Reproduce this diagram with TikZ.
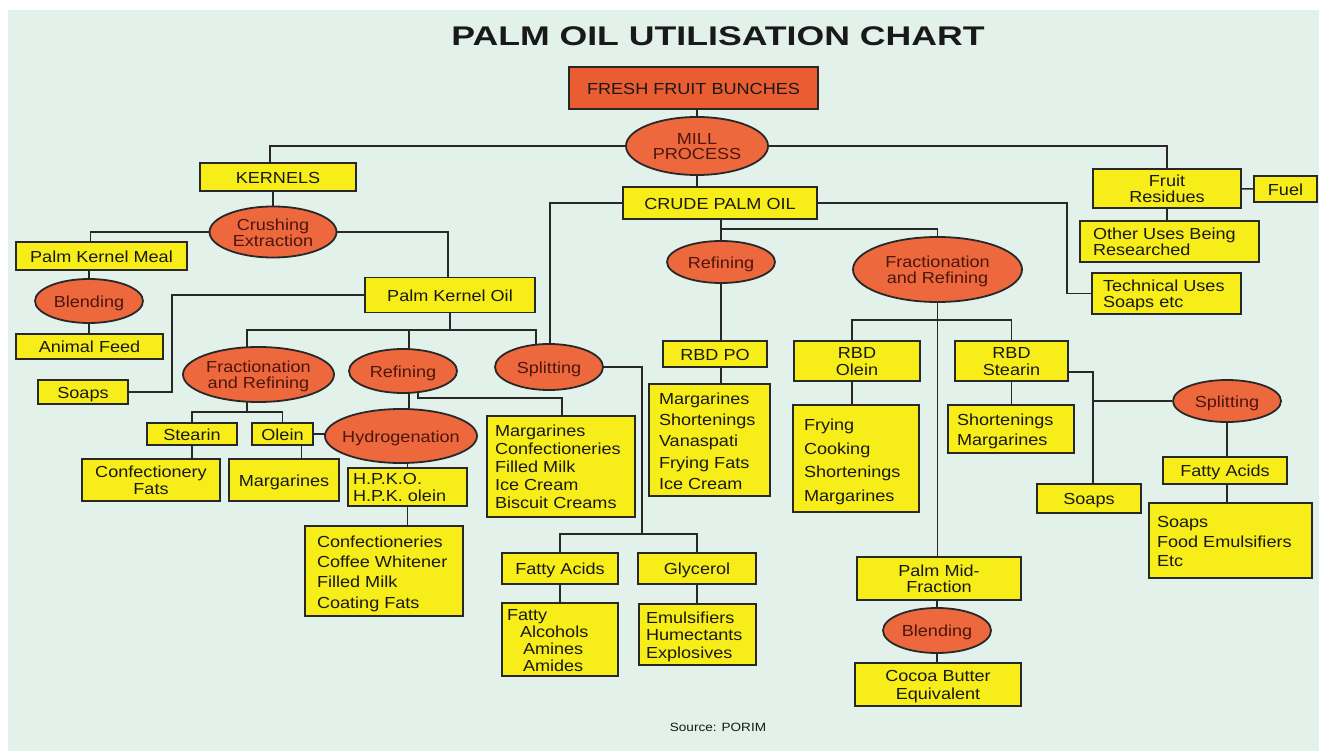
\documentclass[tikz,border=0pt]{standalone}
\usepackage{fontspec}
\setmainfont{Liberation Sans}[FakeStretch=1.13]
\newfontfamily\titlefont{Liberation Sans}[FakeStretch=1.32]
\usetikzlibrary{shapes.geometric}
\pgfdeclarelayer{bg}\pgfdeclarelayer{lines}\pgfsetlayers{bg,lines,main}
\definecolor{lc}{RGB}{40,40,40}
\definecolor{txt}{RGB}{25,25,20}
\definecolor{otx}{RGB}{75,22,12}
\definecolor{ffbc}{RGB}{234,92,50}
\definecolor{org}{RGB}{238,104,62}
\definecolor{yel}{RGB}{247,238,25}
\definecolor{mint}{RGB}{226,242,234}
\definecolor{titc}{RGB}{25,25,25}
\newcommand{\ctx}[2]{\smash{\makebox[0pt]{\raisebox{-7pt}{\renewcommand\arraystretch{#1}\begin{tabular}{@{}c@{}}#2\end{tabular}}}}}
\newcommand{\ltx}[3]{\smash{\makebox[0pt]{\raisebox{-7pt}{\makebox[#1][l]{\renewcommand\arraystretch{#2}\begin{tabular}{@{}l@{}}#3\end{tabular}}}}}}
\tikzset{
  box/.style={rectangle, draw=lc, line width=1.8pt, fill=yel, inner sep=0pt, text=txt},
  oval/.style={ellipse, draw=lc, line width=1.8pt, fill=org, inner sep=0pt, text=otx},
  sz/.style 2 args={minimum width=#1pt, minimum height=#2pt},
  conn/.style={draw=lc, line width=1.6pt}
}
\begin{document}
\begin{tikzpicture}[x=1pt, y=-1pt, font=\fontsize{16}{17}\selectfont]
\useasboundingbox (0,0) rectangle (1319,751);
\begin{pgfonlayer}{bg}
\fill[white] (0,0) rectangle (1319,751);
\fill[mint] (8,10) rectangle (1320,752);
\end{pgfonlayer}
\node[anchor=base, font=\titlefont\bfseries\fontsize{27}{30}\selectfont, text=titc] (title) at (718,46) {PALM OIL UTILISATION CHART};
\node[anchor=base, font=\fontsize{12}{14}\selectfont, text=txt] (src) at (718,731) {Source: PORIM};

\node[box, fill=ffbc, sz={249}{42}] (ffb) at (693.5,88) {\ctx{1}{FRESH\ FRUIT\ BUNCHES}};
\node[oval, sz={142}{58}] (mill) at (697,146) {\ctx{0.9}{MILL\\PROCESS}};
\node[box, sz={156}{28}] (kern) at (278,177) {\ctx{1}{KERNELS}};
\node[oval, sz={127}{51}] (crush) at (273,232) {\ctx{0.9}{Crushing\\Extraction}};
\node[box, sz={171}{28}] (pkm) at (101.5,256) {\ctx{1}{Palm Kernel Meal}};
\node[oval, sz={108}{44}] (blend1) at (89,301) {\ctx{1}{Blending}};
\node[box, sz={147}{25}] (feed) at (89.5,346.5) {\ctx{1}{Animal Feed}};
\node[box, sz={90}{24}] (soap1) at (83,392) {\ctx{1}{Soaps}};
\node[box, sz={170}{35}] (pko) at (450,295) {\ctx{1}{Palm Kernel Oil}};
\node[oval, sz={151}{55}] (fr1) at (258.5,374.5) {\ctx{0.9}{Fractionation\\and Refining}};
\node[oval, sz={108}{44}] (ref1) at (403,371) {\ctx{1}{Refining}};
\node[oval, sz={108}{46}] (spl1) at (549,367) {\ctx{1}{Splitting}};
\node[box, sz={90}{22}] (stearin) at (192,434) {\ctx{1}{Stearin}};
\node[box, sz={61}{22}] (olein) at (282.5,434) {\ctx{1}{Olein}};
\node[oval, sz={152}{54}] (hyd) at (401,436) {\ctx{1}{Hydrogenation}};
\node[box, sz={138}{42}] (cfats) at (151,480) {\ctx{1}{Confectionery\\Fats}};
\node[box, sz={110}{42}] (marg1) at (284,480) {\ctx{1}{Margarines}};
\node[box, sz={119}{38}] (hpko) at (407.5,487) {\ltx{109pt}{0.95}{H.P.K.O.\\H.P.K. olein}};
\node[box, sz={158}{90}] (conf) at (384,571) {\ltx{134pt}{1.2}{Confectioneries\\Coffee Whitener\\Filled Milk\\Coating Fats}};
\node[box, sz={148}{101}] (margpk) at (561,466.5) {\ltx{132pt}{1.06}{Margarines\\Confectioneries\\Filled Milk\\Ice Cream\\Biscuit Creams}};
\node[box, sz={194}{32}] (cpo) at (720,203) {\ctx{1}{CRUDE PALM OIL}};
\node[oval, sz={108}{42}] (ref2) at (721,262) {\ctx{1}{Refining}};
\node[box, sz={104}{26}] (rbdpo) at (715,354) {\ctx{1}{RBD PO}};
\node[box, sz={121}{112}] (margpo) at (709.5,440) {\ltx{101pt}{1.26}{Margarines\\Shortenings\\Vanaspati\\Frying Fats\\Ice Cream}};
\node[oval, sz={169}{65}] (fr2) at (937.5,269.5) {\ctx{0.9}{Fractionation\\and Refining}};
\node[box, sz={126}{40}] (rbdol) at (857,361) {\ctx{0.93}{RBD\\Olein}};
\node[box, sz={113}{40}] (rbdst) at (1011.5,361) {\ctx{0.93}{RBD\\Stearin}};
\node[box, sz={126}{107}] (frying) at (856,458.5) {\ltx{104pt}{1.38}{Frying\\Cooking\\Shortenings\\Margarines}};
\node[box, sz={126}{48}] (shmarg) at (1011,429) {\ltx{108pt}{1.18}{Shortenings\\Margarines}};
\node[oval, sz={108}{42}] (spl2) at (1227,401) {\ctx{1}{Splitting}};
\node[box, sz={124}{27}] (fa2) at (1225,470.5) {\ctx{1}{Fatty Acids}};
\node[box, sz={163}{75}] (soapsfood) at (1230.5,540.5) {\ltx{147pt}{1.15}{Soaps\\Food Emulsifiers\\Etc}};
\node[box, sz={104}{29}] (soap2) at (1089,498.5) {\ctx{1}{Soaps}};
\node[box, sz={164}{43}] (pmf) at (939,578.5) {\ctx{0.9}{Palm Mid-\\Fraction}};
\node[oval, sz={108}{45}] (blend2) at (937,630.5) {\ctx{1}{Blending}};
\node[box, sz={166}{43}] (cbe) at (938,684.5) {\ctx{1.05}{Cocoa Butter\\Equivalent}};
\node[box, sz={148}{39}] (fres) at (1167,188.5) {\ctx{0.9}{Fruit\\Residues}};
\node[box, sz={63}{26}] (fuel) at (1285.5,189) {\ctx{1}{Fuel}};
\node[box, sz={179}{41}] (other) at (1169.5,241.5) {\ltx{153pt}{0.92}{Other Uses Being\\Researched}};
\node[box, sz={149}{41}] (tech) at (1166.5,293.5) {\ltx{127pt}{0.92}{Technical Uses\\Soaps etc}};
\node[box, sz={116}{31}] (fa1) at (560,568.5) {\ctx{1}{Fatty Acids}};
\node[box, sz={118}{31}] (gly) at (697,568.5) {\ctx{1}{Glycerol}};
\node[box, sz={116}{73}] (falc) at (560,639.5) {\ltx{106pt}{1.0}{Fatty\\\hspace*{13pt}Alcohols\\\hspace*{16pt}Amines\\\hspace*{16pt}Amides}};
\node[box, sz={117}{61}] (emul) at (697.5,634.5) {\ltx{103pt}{1.03}{Emulsifiers\\Humectants\\Explosives}};

\begin{pgfonlayer}{lines}
\begin{scope}[every path/.style={conn}]
\draw (mill) -- (mill |- ffb);
\draw (mill) -- (mill |- cpo);
\coordinate (kx) at ([xshift=-8pt]kern.center);
\draw (mill) -| (kx);
\draw (mill) -| (fres);
\draw (crush) -- (crush |- kern);
\coordinate (pkmx) at ([xshift=-11pt]pkm.center);
\draw (crush) -| (pkmx);
\coordinate (pkox) at ([xshift=-2pt]pko.center);
\draw (crush) -| (pkox);
\draw (blend1) -- (blend1 |- pkm);
\draw (blend1) -- (blend1 |- feed);
\coordinate (c1) at (172,295);
\draw (soap1) -| (c1) -- (pko);
\coordinate (b1) at (450,330);
\draw (pko) -- (b1);
\coordinate (fr1x) at ([xshift=-11.5pt]fr1.center);
\coordinate (spl1x) at ([xshift=-13pt]spl1.center);
\draw (fr1x) |- (b1) -| (spl1x);
\coordinate (ref1x) at ([xshift=6pt]ref1.center);
\draw (ref1x |- b1) -- (ref1x |- hyd);
\coordinate (spl1y) at ([xshift=1pt]spl1.center);
\draw (cpo) -| (spl1y);
\coordinate (b2) at (247,412);
\draw (fr1x) -- (b2);
\draw (stearin) |- (b2) -| (olein);
\draw (olein) -- (olein -| hyd);
\draw (stearin) -- (stearin |- cfats);
\coordinate (olx) at ([xshift=19pt]olein.center);
\draw (olx) -- (olx |- marg1);
\draw (hpko) -- (hpko |- hyd);
\draw (hpko) -- (hpko |- conf);
\coordinate (ref1m) at ([xshift=15pt]ref1.center);
\coordinate (b3) at (562,398);
\draw (ref1m) |- (b3) -- (b3 |- margpk);
\coordinate (b4) at (642,534);
\draw (spl1) -| (b4);
\draw (fa1) |- (b4) -| (gly);
\draw (fa1) -- (falc);
\draw (gly) -- (gly |- emul);
\draw (ref2) -- (ref2 |- cpo);
\draw (ref2) -- (ref2 |- margpo);
\coordinate (b5) at (721,229);
\draw (b5) -| (fr2);
\coordinate (c2) at (1067,293.5);
\draw (cpo) -| (c2) -- (tech);
\coordinate (b6) at (938,320);
\draw (fr2) -- (fr2 |- pmf);
\coordinate (olx2) at ([xshift=-5pt]rbdol.center);
\draw (olx2 |- frying) -- (olx2 |- b6) -| (rbdst);
\draw (rbdst) -- (rbdst |- shmarg);
\coordinate (c3) at (1093,372);
\coordinate (stx) at ([yshift=-11pt]rbdst.center);
\draw (stx) -- (c3) -- (c3 |- soap2);
\draw (c3 |- spl2) -- (spl2);
\draw (spl2) -- (spl2 |- soapsfood);
\draw (fres) -- (fuel);
\draw (fres) -- (fres |- other);
\draw (blend2) -- (blend2 |- pmf);
\draw (blend2) -- (blend2 |- cbe);
\end{scope}
\end{pgfonlayer}
\end{tikzpicture}
\end{document}
